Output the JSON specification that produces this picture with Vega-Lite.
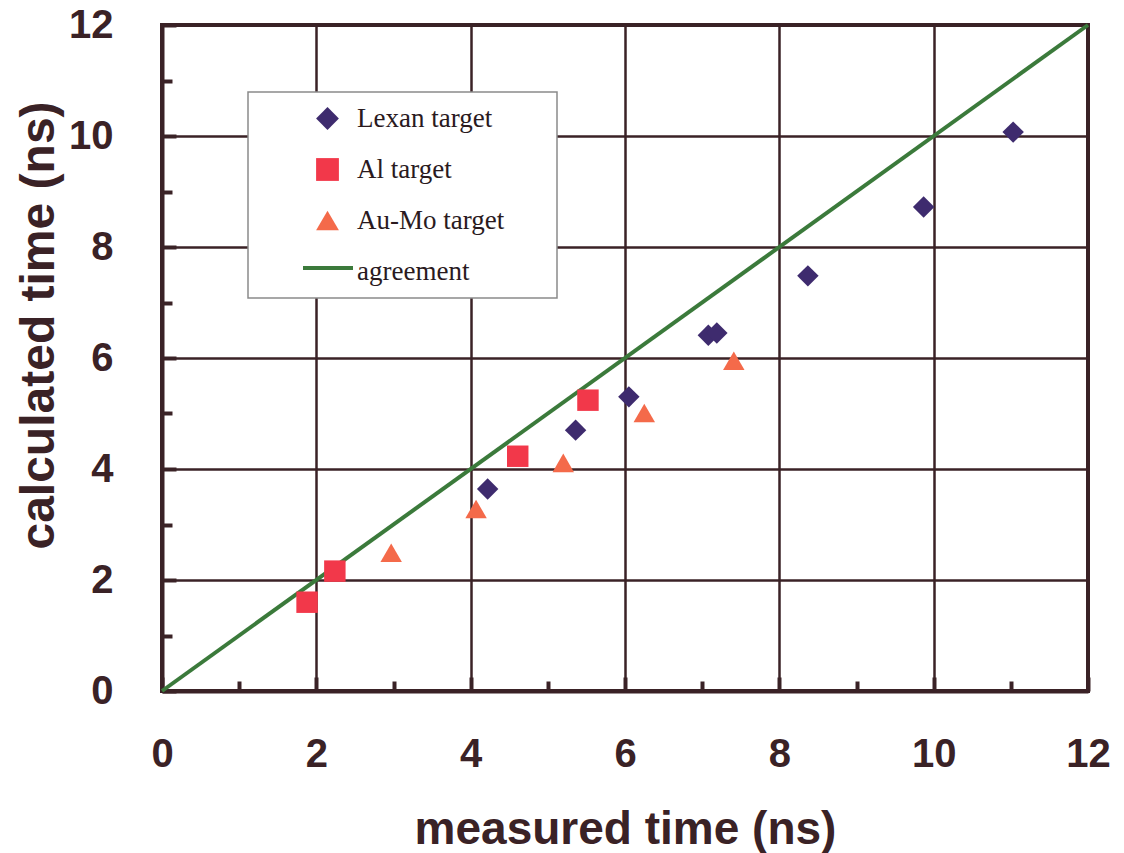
{
  "$schema": "https://vega.github.io/schema/vega-lite/v6.json",
  "width": 926,
  "height": 666,
  "autosize": "none",
  "padding": {"left": 162, "top": 25, "right": 36, "bottom": 162},
  "background": "white",
  "config": {
    "view": {"stroke": "#3a2226", "strokeWidth": 4},
    "legend": {
      "orient": "none",
      "fillColor": "white",
      "strokeColor": "#8a8a8a",
      "strokeWidth": 1.5,
      "padding": 13,
      "rowPadding": 23,
      "symbolSize": 420,
      "symbolOffset": 53,
      "labelOffset": 16,
      "labelLimit": 400,
      "labelFont": "Liberation Serif",
      "labelFontSize": 27,
      "labelColor": "#2a1a1e"
    }
  },
  "layer": [
    {
      "data": {"values": [{"x": 0, "y": 0, "kind": "agreement"}, {"x": 12, "y": 12, "kind": "agreement"}]},
      "mark": {"type": "line", "strokeWidth": 4},
      "encoding": {
        "x": {
          "field": "x", "type": "quantitative",
          "scale": {"domain": [0, 12], "nice": false, "zero": false},
          "axis": {
            "values": [0, 2, 4, 6, 8, 10, 12],
            "title": "measured time (ns)",
            "grid": true, "gridColor": "#3a2226", "gridWidth": 2.5, "gridOpacity": 1,
            "domain": true, "domainColor": "#3a2226", "domainWidth": 4,
            "ticks": true, "tickColor": "#3a2226", "tickWidth": 4, "tickSize": -14,
            "labelPadding": 57,
            "labelFont": "Liberation Sans", "labelFontWeight": "bold", "labelFontSize": 40, "labelColor": "#3a2226",
            "labelFlush": false,
            "titleFont": "Liberation Sans", "titleFontWeight": "bold", "titleFontSize": 46, "titleColor": "#3a2226",
            "titleBaseline": "middle", "titleY": 138
          }
        },
        "y": {
          "field": "y", "type": "quantitative",
          "scale": {"domain": [0, 12], "nice": false, "zero": false},
          "axis": {
            "values": [0, 2, 4, 6, 8, 10, 12],
            "title": "calculated time (ns)",
            "grid": true, "gridColor": "#3a2226", "gridWidth": 2.5, "gridOpacity": 1,
            "domain": true, "domainColor": "#3a2226", "domainWidth": 4,
            "ticks": true, "tickColor": "#3a2226", "tickWidth": 4, "tickSize": -14,
            "labelPadding": 63,
            "labelFont": "Liberation Sans", "labelFontWeight": "bold", "labelFontSize": 40, "labelColor": "#3a2226",
            "labelFlush": false,
            "titleFont": "Liberation Sans", "titleFontWeight": "bold", "titleFontSize": 48, "titleColor": "#3a2226",
            "titleAngle": -90, "titleAlign": "center", "titleBaseline": "middle",
            "titleX": -123, "titleY": 300
          }
        },
        "stroke": {
          "field": "kind", "type": "nominal", "title": null,
          "scale": {"domain": ["agreement"], "range": ["#3b7a3b"]},
          "legend": {
            "title": null,
            "zindex": 5,
            "legendX": 139,
            "legendY": 216,
            "padding": 0,
            "symbolOffset": 0,
            "symbolType": "stroke",
            "symbolSize": 2500,
            "symbolStrokeWidth": 4,
            "labelExpr": "''",
            "labelOffset": 0,
            "fillColor": "transparent",
            "strokeColor": "transparent"
          }
        }
      }
    },
    {
      "data": {
        "values": [
          {"measured": 4.22, "calculated": 3.64, "series": "Lexan target"},
          {"measured": 5.36, "calculated": 4.70, "series": "Lexan target"},
          {"measured": 6.05, "calculated": 5.30, "series": "Lexan target"},
          {"measured": 7.08, "calculated": 6.41, "series": "Lexan target"},
          {"measured": 7.19, "calculated": 6.45, "series": "Lexan target"},
          {"measured": 8.37, "calculated": 7.48, "series": "Lexan target"},
          {"measured": 9.87, "calculated": 8.72, "series": "Lexan target"},
          {"measured": 11.03, "calculated": 10.07, "series": "Lexan target"},
          {"measured": 1.88, "calculated": 1.60, "series": "Al target"},
          {"measured": 2.24, "calculated": 2.16, "series": "Al target"},
          {"measured": 4.61, "calculated": 4.23, "series": "Al target"},
          {"measured": 5.52, "calculated": 5.24, "series": "Al target"},
          {"measured": 2.97, "calculated": 2.49, "series": "Au-Mo target"},
          {"measured": 4.07, "calculated": 3.28, "series": "Au-Mo target"},
          {"measured": 5.20, "calculated": 4.11, "series": "Au-Mo target"},
          {"measured": 6.25, "calculated": 5.01, "series": "Au-Mo target"},
          {"measured": 7.41, "calculated": 5.95, "series": "Au-Mo target"}
        ]
      },
      "mark": {"type": "point", "filled": true, "opacity": 1, "size": 460},
      "encoding": {
        "x": {
          "field": "measured", "type": "quantitative",
          "axis": {
            "orient": "bottom", "values": [1, 3, 5, 7, 9, 11],
            "labels": false, "grid": false, "domain": false, "title": null,
            "ticks": true, "tickColor": "#3a2226", "tickWidth": 4, "tickSize": -10
          }
        },
        "y": {
          "field": "calculated", "type": "quantitative",
          "axis": {
            "orient": "left", "values": [1, 3, 5, 7, 9, 11],
            "labels": false, "grid": false, "domain": false, "title": null,
            "ticks": true, "tickColor": "#3a2226", "tickWidth": 4, "tickSize": -10
          }
        },
        "color": {
          "field": "series", "type": "nominal", "title": null,
          "scale": {
            "domain": ["Lexan target", "Al target", "Au-Mo target", "agreement"],
            "range": ["#3e2b6e", "#f2384a", "#f46a4a", "#3b7a3b"]
          },
          "legend": {
            "title": null,
            "zindex": 1,
            "legendX": 86,
            "legendY": 67,
            "symbolSize": 520,
            "labelExpr": "datum.label + '\u00a0\u00a0\u00a0\u00a0\u00a0\u2009\u200b'"
          }
        },
        "shape": {
          "field": "series", "type": "nominal", "title": null,
          "scale": {
            "domain": ["Lexan target", "Al target", "Au-Mo target", "agreement"],
            "range": ["diamond", "square", "triangle-up", "stroke"]
          }
        }
      }
    }
  ],
  "resolve": {"axis": {"x": "independent", "y": "independent"}}
}
